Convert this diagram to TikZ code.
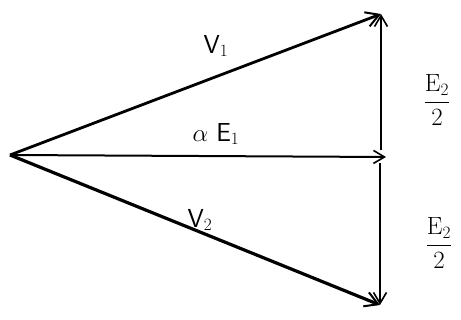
\documentclass[tikz,border=0pt]{standalone}
\usetikzlibrary{arrows.meta}
\begin{document}
\begin{tikzpicture}[x=1pt,y=-1pt,
  vec/.style={line width=2.8pt,-{Straight Barb[length=13pt,width=15pt,line width=2pt]}},
  thinvec/.style={line width=1.6pt,-{Straight Barb[length=11pt,width=13pt,line width=1.6pt]}},
  lbl/.style={font=\fontsize{26}{28}\selectfont\sffamily}]
\useasboundingbox (0,0) rectangle (461,320);
\clip (0,0) rectangle (461,320);
\coordinate (O) at (10,155);
\coordinate (A) at (381,14);
\coordinate (B) at (386,157);
\coordinate (C) at (380,305);
\coordinate (M1) at (381,150);
\coordinate (M2) at (380,163);
\draw[vec] (O) -- (A);
\draw[thinvec,line width=2pt] (O) -- (B);
\draw[vec,line width=3.2pt] (O) -- (C);
\draw[thinvec] (M1) -- (A);
\draw[thinvec] (M2) -- (C);
\node[lbl] (v1) at (216,46) {V$_1$};
\node[lbl] (ae1) at (216,134) {$\alpha$ E$_1$};
\node[lbl] (v2) at (200,220) {V$_2$};
\node[lbl] (e2a) at (437,100) {$\displaystyle\frac{\mathrm{E}_2}{2}$};
\node[lbl] (e2b) at (439,243) {$\displaystyle\frac{\mathrm{E}_2}{2}$};
\end{tikzpicture}
\end{document}
